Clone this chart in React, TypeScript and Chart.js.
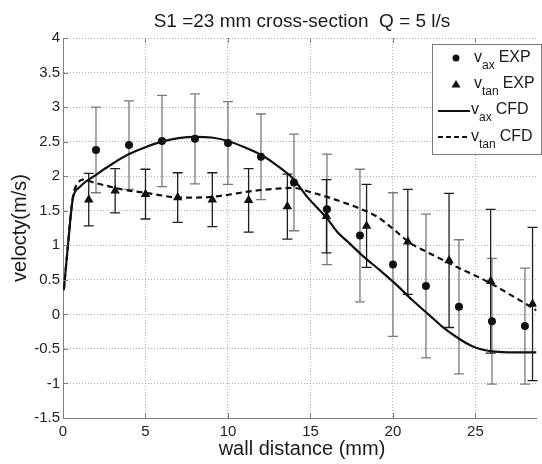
import React, { useEffect, useRef } from "react";
import { Chart, registerables } from "chart.js";

Chart.register(...registerables);

const FONT = "'Liberation Sans', Arial, Helvetica, sans-serif";

const titleText = "S1 =23 mm cross-section  Q = 5 l/s";
const xTitle = "wall distance (mm)";
const yTitle = "velocty(m/s)";

const xTickValues = [0, 5, 10, 15, 20, 25];
const yTickValues = [-1.5, -1, -0.5, 0, 0.5, 1, 1.5, 2, 2.5, 3, 3.5, 4];

// v_ax EXP
const axExpX = [2, 4, 6, 8, 10, 12, 14, 16, 18, 20, 22, 24, 26, 28];
const axExpY = [2.38, 2.45, 2.51, 2.54, 2.48, 2.28, 1.91, 1.52, 1.14, 0.72, 0.41, 0.11, -0.1, -0.17];
const axExpErr = [0.62, 0.64, 0.66, 0.65, 0.6, 0.62, 0.7, 0.8, 0.96, 1.04, 1.04, 0.97, 0.91, 0.84];

// v_tan EXP
const tanExpX = [1.56, 3.16, 5.0, 6.95, 9.05, 11.25, 13.6, 15.97, 18.4, 20.9, 23.4, 25.92, 28.46];
const tanExpY = [1.66, 1.79, 1.74, 1.69, 1.66, 1.65, 1.56, 1.42, 1.28, 1.05, 0.78, 0.48, 0.15];
const tanExpErr = [0.38, 0.32, 0.36, 0.36, 0.39, 0.46, 0.47, 0.53, 0.6, 0.76, 0.97, 1.04, 1.11];

// v_ax CFD
const axCfdX = [0.05, 0.3, 0.6, 1, 2, 3, 4, 5, 6, 7, 8, 9, 10, 11, 12, 13, 14, 14.8, 16, 16.6, 17.4, 18.2, 19.2, 20.2, 21.2, 22.2, 23, 23.8, 24.4, 25, 25.6, 26.2, 27, 28.7];
const axCfdY = [0.35, 1.0, 1.68, 1.84, 2.02, 2.18, 2.32, 2.42, 2.5, 2.55, 2.57, 2.56, 2.51, 2.42, 2.31, 2.15, 1.95, 1.7, 1.39, 1.2, 1.02, 0.84, 0.64, 0.43, 0.2, -0.01, -0.18, -0.32, -0.41, -0.48, -0.52, -0.54, -0.55, -0.55];

// v_tan CFD
const tanCfdX = [0.05, 0.3, 0.6, 0.9, 1.2, 2, 3, 4, 5, 6, 7, 8, 9, 10, 11, 12, 13, 14, 15, 16, 17, 18, 19, 20, 21, 22, 23, 24, 25, 26, 27, 28, 28.7];
const tanCfdY = [0.35, 1.0, 1.7, 1.9, 1.95, 1.9, 1.84, 1.79, 1.76, 1.72, 1.69, 1.69, 1.7, 1.73, 1.77, 1.8, 1.82, 1.83, 1.77, 1.7, 1.62, 1.53, 1.42, 1.24, 1.04, 0.91, 0.79, 0.67, 0.56, 0.44, 0.3, 0.16, 0.06];

const legendLabels = [
  { main: "v", sub: "ax", rest: "EXP" },
  { main: "v", sub: "tan", rest: "EXP" },
  { main: "v", sub: "ax", rest: "CFD" },
  { main: "v", sub: "tan", rest: "CFD" },
];

const pts = (xs: number[], ys: number[]) => xs.map((x, i) => ({ x, y: ys[i] }));

const errorBarPlugin = {
  id: "errorBars",
  beforeDatasetsDraw(chart: any) {
    const { ctx, scales } = chart;
    const xs = scales.x;
    const ys = scales.y;
    const draw = (X: number[], Y: number[], E: number[], color: string) => {
      ctx.save();
      ctx.strokeStyle = color;
      ctx.lineWidth = 1.3;
      for (let i = 0; i < X.length; i++) {
        const px = xs.getPixelForValue(X[i]);
        const top = ys.getPixelForValue(Y[i] + E[i]);
        const bot = ys.getPixelForValue(Y[i] - E[i]);
        ctx.beginPath();
        ctx.moveTo(px, top);
        ctx.lineTo(px, bot);
        ctx.moveTo(px - 5, top);
        ctx.lineTo(px + 5, top);
        ctx.moveTo(px - 5, bot);
        ctx.lineTo(px + 5, bot);
        ctx.stroke();
      }
      ctx.restore();
    };
    draw(axExpX, axExpY, axExpErr, "#7a7a7a");
    draw(tanExpX, tanExpY, tanExpErr, "#1e1e1e");
  },
};

const decorPlugin = {
  id: "decor",
  afterDraw(chart: any) {
    const { ctx, chartArea, scales } = chart;
    const { left, right, top, bottom } = chartArea;
    ctx.save();
    // inward ticks
    ctx.strokeStyle = "#808080";
    ctx.lineWidth = 1;
    ctx.beginPath();
    xTickValues.forEach((v) => {
      const px = Math.round(scales.x.getPixelForValue(v)) + 0.5;
      ctx.moveTo(px, bottom);
      ctx.lineTo(px, bottom - 5);
      ctx.moveTo(px, top);
      ctx.lineTo(px, top + 5);
    });
    yTickValues.forEach((v) => {
      const py = Math.round(scales.y.getPixelForValue(v)) + 0.5;
      ctx.moveTo(left, py);
      ctx.lineTo(left + 5, py);
    });
    ctx.stroke();

    // title
    ctx.fillStyle = "#1a1a1a";
    ctx.font = `19px ${FONT}`;
    ctx.textAlign = "center";
    ctx.textBaseline = "alphabetic";
    ctx.fillText(titleText, 302, 27);

    // x title
    ctx.font = `20px ${FONT}`;
    ctx.fillText(xTitle, 302, 455);

    // y title
    ctx.save();
    ctx.translate(26, 228);
    ctx.rotate(-Math.PI / 2);
    ctx.fillText(yTitle, 0, 0);
    ctx.restore();

    // legend box
    ctx.fillStyle = "#ffffff";
    ctx.fillRect(432, 44, 109, 110);
    ctx.strokeStyle = "#7a7a7a";
    ctx.lineWidth = 1;
    ctx.strokeRect(432.5, 44.5, 109, 110);

    const baselines = [62, 88, 114, 141];
    const textX = [474, 474, 471, 471];
    // markers
    ctx.fillStyle = "#111";
    ctx.beginPath();
    ctx.arc(456, 58, 3.5, 0, Math.PI * 2);
    ctx.fill();
    ctx.beginPath();
    ctx.moveTo(456, 80);
    ctx.lineTo(460.5, 87.5);
    ctx.lineTo(451.5, 87.5);
    ctx.closePath();
    ctx.fill();
    ctx.strokeStyle = "#111";
    ctx.lineWidth = 2;
    ctx.beginPath();
    ctx.moveTo(438, 111);
    ctx.lineTo(470, 111);
    ctx.stroke();
    ctx.setLineDash([5, 3]);
    ctx.beginPath();
    ctx.moveTo(438, 137);
    ctx.lineTo(470, 137);
    ctx.stroke();
    ctx.setLineDash([]);

    ctx.textAlign = "left";
    ctx.fillStyle = "#1a1a1a";
    legendLabels.forEach((lab, i) => {
      let x = textX[i];
      const b = baselines[i];
      ctx.font = `16px ${FONT}`;
      ctx.fillText(lab.main, x, b);
      x += ctx.measureText(lab.main).width;
      ctx.font = `12px ${FONT}`;
      ctx.fillText(lab.sub, x, b + 7);
      x += ctx.measureText(lab.sub).width + 4;
      ctx.font = `16px ${FONT}`;
      ctx.fillText(lab.rest, x, b);
    });
    ctx.restore();
  },
};

export default function App() {
  const ref = useRef<HTMLCanvasElement | null>(null);
  useEffect(() => {
    document.body.style.margin = "0";
    const canvas = ref.current;
    if (!canvas) return;
    const chart = new Chart(canvas, {
      type: "scatter",
      data: {
        datasets: [
          {
            label: "v_ax CFD",
            data: pts(axCfdX, axCfdY),
            showLine: true,
            borderColor: "#111",
            borderWidth: 2.2,
            pointRadius: 0,
            cubicInterpolationMode: "monotone",
          } as any,
          {
            label: "v_tan CFD",
            data: pts(tanCfdX, tanCfdY),
            showLine: true,
            borderColor: "#111",
            borderWidth: 2.2,
            borderDash: [6, 4],
            pointRadius: 0,
            cubicInterpolationMode: "monotone",
          } as any,
          {
            label: "v_ax EXP",
            data: pts(axExpX, axExpY),
            pointStyle: "circle",
            pointRadius: 4,
            backgroundColor: "#111",
            borderColor: "#111",
            borderWidth: 0,
          },
          {
            label: "v_tan EXP",
            data: pts(tanExpX, tanExpY),
            pointStyle: "triangle",
            pointRadius: 5.5,
            backgroundColor: "#111",
            borderColor: "#111",
            borderWidth: 0,
          },
        ],
      },
      options: {
        responsive: false,
        animation: false,
        devicePixelRatio: 1,
        layout: { padding: { top: 38, left: 0, right: 0, bottom: 0 } },
        plugins: {
          legend: { display: false },
          tooltip: { enabled: false },
          title: { display: false },
        },
        scales: {
          x: {
            type: "linear",
            min: 0,
            max: 28.7,
            afterBuildTicks: (s: any) => {
              s.ticks = xTickValues.map((v) => ({ value: v }));
            },
            afterFit: (s: any) => {
              s.height = 46;
            },
            ticks: {
              padding: 5,
              color: "#222",
              font: { family: FONT, size: 15 },
              callback: (v: any) => String(v),
            },
            grid: { color: "#b0b0b0", lineWidth: 1, drawTicks: false },
            border: { display: true, color: "#808080", width: 1, dash: [1, 2] },
          },
          y: {
            type: "linear",
            min: -1.5,
            max: 4,
            afterBuildTicks: (s: any) => {
              s.ticks = yTickValues.map((v) => ({ value: v }));
            },
            afterFit: (s: any) => {
              s.width = 63;
            },
            ticks: {
              padding: 3,
              color: "#222",
              font: { family: FONT, size: 15 },
              callback: (v: any) => String(v),
            },
            grid: { color: "#b0b0b0", lineWidth: 1, drawTicks: false },
            border: { display: true, color: "#808080", width: 1, dash: [1, 2] },
          },
        },
      },
      plugins: [errorBarPlugin, decorPlugin],
    });
    return () => chart.destroy();
  }, []);
  return <canvas ref={ref} width={542} height={464} style={{ display: "block" }} />;
}
